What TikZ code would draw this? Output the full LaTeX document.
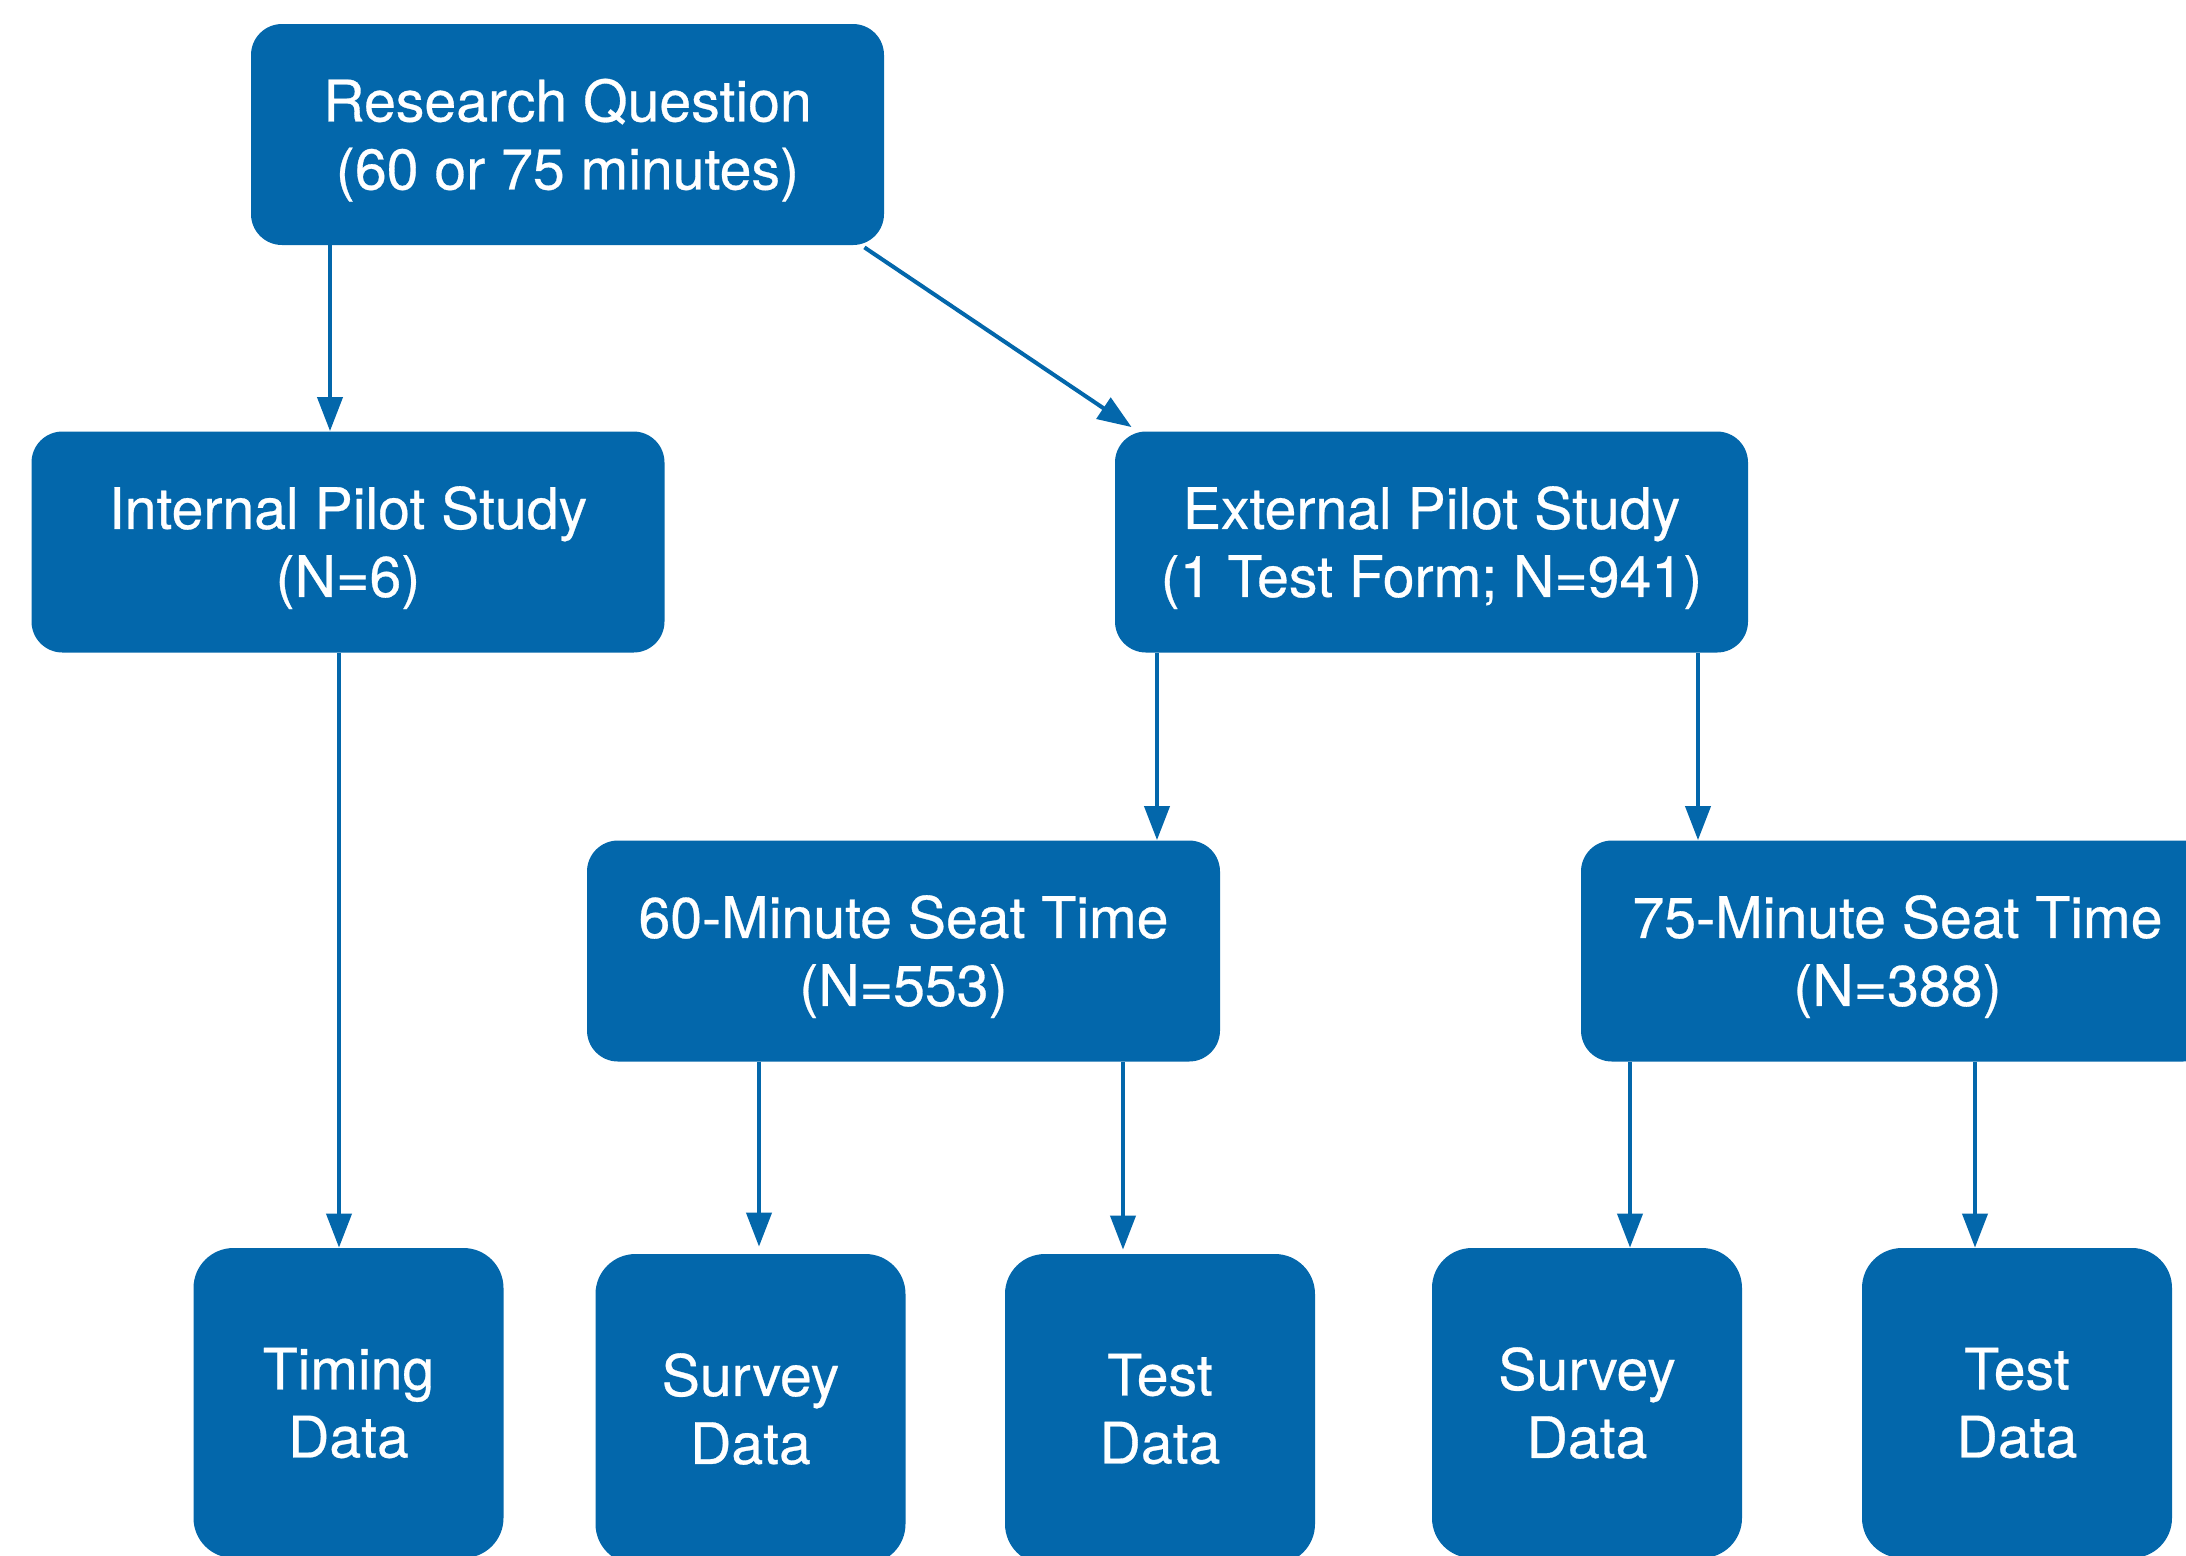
\documentclass[tikz,border=0pt]{standalone}
\usepackage{fontspec}
\setmainfont{TeX Gyre Heros}[FakeBold=0.5]
\usetikzlibrary{arrows.meta}
\definecolor{boxblue}{RGB}{3,103,171}
\begin{document}
\begin{tikzpicture}[x=0.5pt,y=-0.5pt,
  boxtext/.style={text=white, align=center, inner sep=0pt,
    font=\fontsize{28.6}{34}\selectfont},
  bigbox/.style={fill=boxblue, draw=none, rounded corners=15.5pt,
    minimum width=316.5pt, minimum height=110.5pt, inner sep=0pt},
  smallbox/.style={bigbox, boxtext, rounded corners=20pt, minimum width=155pt, minimum height=155pt},
  arr/.style={draw=boxblue, line width=2pt, -{Triangle[length=17pt,width=12.5pt]}}
]
\clip (0,0) rectangle (2186,1555);
% main boxes
\node[bigbox] (rq)  at (567.5,134.5) {};
\node[bigbox] (int) at (348,542) {};
\node[bigbox] (ext) at (1431.5,542) {};
\node[bigbox] (m60) at (903.5,951) {};
\node[bigbox] (m75) at (1897.5,951) {};
\node[boxtext] (rqt)  at ([yshift=-2.8pt]rq.center)  {Research Question\\(60 or 75 minutes)};
\node[boxtext] (intt) at ([yshift=-2.8pt]int.center) {Internal Pilot Study\\(N=6)};
\node[boxtext] (extt) at ([yshift=-2.8pt]ext.center) {External Pilot Study\\(1 Test Form; N=941)};
\node[boxtext] (m60t) at ([yshift=-2.8pt]m60.center) {60-Minute Seat Time\\(N=553)};
\node[boxtext] (m75t) at ([yshift=-2.8pt]m75.center) {75-Minute Seat Time\\(N=388)};
% data boxes
\node[smallbox] (tim) at (348.5,1403) {Timing\\Data};
\node[smallbox] (sv1) at (750.5,1409) {Survey\\Data};
\node[smallbox] (ts1) at (1160,1409) {Test\\Data};
\node[smallbox] (sv2) at (1587,1403) {Survey\\Data};
\node[smallbox] (ts2) at (2017,1403) {Test\\Data};
% connector x positions
\coordinate (xa) at (330,0);
\coordinate (xb) at (339,0);
\coordinate (xc) at (1157,0);
\coordinate (xd) at (1698,0);
\coordinate (xe) at (759,0);
\coordinate (xf) at (1123,0);
\coordinate (xg) at (1630,0);
\coordinate (xh) at (1975,0);
% connectors
\draw[arr] (rq.south -| xa) -- (int.north -| xa);
\draw[arr] ([shift={(-20,2)}]rq.south east) -- ([shift={(17,-4)}]ext.north west);
\draw[arr] (int.south -| xb) -- (tim.north -| xb);
\draw[arr] (ext.south -| xc) -- (m60.north -| xc);
\draw[arr] (ext.south -| xd) -- (m75.north -| xd);
\draw[arr] (m60.south -| xe) -- ([yshift=3.5pt]sv1.north -| xe);
\draw[arr] (m60.south -| xf) -- ([yshift=2pt]ts1.north -| xf);
\draw[arr] (m75.south -| xg) -- (sv2.north -| xg);
\draw[arr] (m75.south -| xh) -- (ts2.north -| xh);
\end{tikzpicture}
\end{document}
